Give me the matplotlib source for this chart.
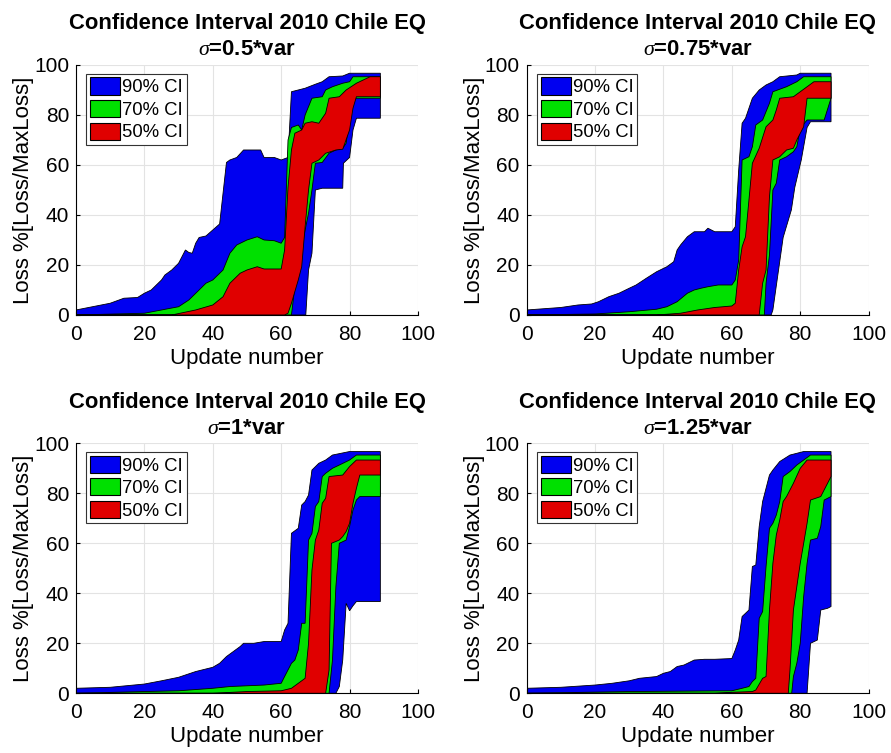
import numpy as np
import matplotlib
matplotlib.use("Agg")
import matplotlib.pyplot as plt
from matplotlib.patches import Patch

plt.rcParams["font.family"] = ["Liberation Sans", "DejaVu Sans"]
plt.rcParams["mathtext.fontset"] = "custom"
plt.rcParams["mathtext.it"] = "Liberation Serif:italic"

# sigma labels for the four panels
sigma_labels = ["0.5", "0.75", "1", "1.25"]
ci_labels = ["90% CI", "70% CI", "50% CI"]
ci_colors = ["#0000f0", "#00e000", "#e00000"]

# ---- sigma = 0.5*var ----
s1_90_up_x = [0, 10, 14, 18, 20, 22, 25, 26, 28, 30, 32, 33, 34, 35, 36, 38, 40, 42, 44, 45, 47, 49, 52, 54, 55, 58, 60, 62, 63, 65, 67, 70, 72, 74, 78, 80, 89]
s1_90_up_y = [2, 4.7, 6.7, 7, 8.7, 10, 14, 16, 18, 20.7, 26, 25, 24.7, 28.7, 31, 31.6, 34, 36.4, 61, 62, 63, 66, 66, 66, 63, 63, 62, 63, 89.3, 90, 90.7, 92.3, 93.3, 95.3, 95.6, 96.7, 96.7]
s1_90_lo_x = [0, 67.2, 68, 69, 70, 72, 78, 78.2, 80, 81, 82, 89]
s1_90_lo_y = [0, 0, 18, 24.7, 50, 50.7, 50.7, 60.7, 63, 74, 78.7, 78.7]
s1_70_up_x = [0, 20, 25, 30, 33, 36, 38, 40, 43, 45, 47, 50, 53, 55, 58, 60, 61, 62, 63, 65, 66, 67, 69, 72, 73, 75, 78, 80, 81, 89]
s1_70_up_y = [0, 0.7, 2, 3.3, 6, 10, 12.7, 14, 18, 24.7, 28, 30, 31.3, 30, 29.7, 28.7, 31, 70, 75, 76, 74, 80, 86.7, 87.3, 90, 91.3, 92.7, 93.3, 95.3, 95.3]
s1_70_lo_x = [0, 63, 64, 65, 67, 68, 69, 70, 72, 74, 76, 78, 79, 80, 81, 89]
s1_70_lo_y = [0, 0, 11.3, 18, 34, 40.7, 50, 60.7, 61, 64.7, 66, 66.7, 68.7, 79.3, 86.7, 86.7]
s1_50_up_x = [0, 28, 35, 40, 43, 45, 48, 50, 53, 55, 60, 61, 62, 63, 64, 66, 67, 69, 71, 73, 74, 77, 79, 82, 86, 89]
s1_50_up_y = [0, 0, 2, 4, 7.3, 12.7, 16.7, 18, 19.3, 18.4, 18.4, 26, 51, 66, 72.7, 74, 76.7, 77.3, 76.7, 80.7, 86.7, 87.3, 90, 92.7, 95.3, 95.3]
s1_50_lo_x = [0, 61, 62, 63, 65, 66, 67, 68, 69, 71, 73, 76, 78, 80, 81, 82, 89]
s1_50_lo_y = [0, 0, 0.7, 4.7, 14, 19.3, 35.3, 50, 60.7, 62, 64.7, 66, 66.3, 74, 82.7, 87.3, 87.3]

# ---- sigma = 0.75*var ----
s2_90_up_x = [0, 10, 15, 19, 21, 24, 27, 30, 32, 35, 38, 41, 43, 44, 45, 47, 49, 52, 53, 55, 60, 61, 62, 63, 64, 66, 68, 70, 72, 74, 79, 80, 89]
s2_90_up_y = [2, 3, 4, 4.4, 5.3, 7.3, 8.7, 10.7, 12, 14.7, 17.3, 19.3, 21.3, 26, 28, 31.3, 33.3, 33.3, 34.7, 33.3, 33.3, 35.3, 58, 76.7, 78.7, 86.7, 90, 92, 93.3, 95.3, 96, 96.7, 96.7]
s2_90_lo_x = [0, 71.5, 72, 75, 77.4, 78.4, 80.3, 82, 83, 89]
s2_90_lo_y = [0, 0, 2, 31, 42, 51, 62, 75, 77.3, 77.3]
s2_70_up_x = [0, 20, 30, 38, 41, 44, 47, 49, 51, 53, 56, 60, 61, 62, 63, 65, 66, 67, 69, 71, 72, 74, 76, 79, 81, 89]
s2_70_up_y = [0, 0.4, 1.3, 2.3, 3.3, 5.3, 8.7, 10, 10.7, 11.3, 12, 12, 14, 22, 62, 63.3, 67.3, 76, 78, 84.7, 89.3, 90.3, 91.3, 93.3, 95.3, 95.3]
s2_70_lo_x = [0, 69.5, 70, 71, 72, 73, 74, 76, 78, 79, 80, 82, 87, 89]
s2_70_lo_y = [0, 0, 12.7, 24, 50, 52.7, 62, 63.3, 65.3, 67.3, 74.7, 78, 78, 86.7]
s2_50_up_x = [0, 38, 45, 50, 55, 60, 61, 62, 63, 64, 65, 66, 68, 70, 72, 73, 74, 78, 80, 82, 84, 89]
s2_50_up_y = [0, 0, 0.7, 2, 3, 3.6, 4.7, 18, 27.3, 31.3, 46, 60.7, 66.7, 75.3, 78, 82, 86.7, 87.3, 89.3, 91.3, 93.3, 93.3]
s2_50_lo_x = [0, 68, 69, 70, 71, 72, 74, 76, 78, 79, 81, 82, 89]
s2_50_lo_y = [0, 0, 12.7, 18, 47.3, 62, 63.3, 66, 66.7, 70, 75.3, 86.7, 86.7]

# ---- sigma = 1*var ----
s3_90_up_x = [0, 10, 20, 25, 30, 35, 40, 42, 44, 46, 48, 49, 52, 55, 60, 61, 62, 63, 65, 66, 67, 68, 69, 71, 73, 75, 80, 89]
s3_90_up_y = [2, 2.4, 3.7, 5, 6.4, 8.7, 10.4, 12, 14.7, 16.7, 18.7, 20, 20, 20.7, 20.7, 25.3, 28, 64, 66, 75.3, 76.7, 79.3, 89.3, 92, 93.3, 95.3, 96.7, 96.7]
s3_90_lo_x = [0, 76, 77, 78, 79, 80, 81, 82, 89]
s3_90_lo_y = [0, 0, 2.7, 13.3, 36, 33, 35, 36.7, 36.7]
s3_70_up_x = [0, 20, 30, 40, 45, 50, 55, 60, 61, 63, 64, 65, 66, 67, 68, 69, 70, 71, 72, 73, 75, 77, 80, 82, 89]
s3_70_up_y = [0, 0.7, 1, 2, 2.7, 3, 3.3, 4, 6.7, 12, 13.3, 17.3, 28, 28, 61.3, 64, 74.7, 76.7, 86.7, 88, 90, 91.3, 93.3, 95.3, 95.3]
s3_70_lo_x = [0, 74, 74.5, 75, 76, 77, 79, 80, 81, 82, 83, 89]
s3_70_lo_y = [0, 0, 6.7, 13.3, 42.7, 60, 61.3, 66.7, 73.3, 77.3, 78.7, 78.7]
s3_50_up_x = [0, 40, 50, 60, 63, 65, 67, 68, 69, 70, 71, 72, 73, 74, 78, 80, 82, 89]
s3_50_up_y = [0, 0, 0.7, 1, 2, 4, 6, 20, 49.3, 61.3, 65.3, 76, 78, 86.7, 87.3, 90.7, 93.3, 93.3]
s3_50_lo_x = [0, 73, 74, 74.7, 77, 78, 79, 80, 81, 82, 83, 89]
s3_50_lo_y = [0, 0, 9.3, 60, 61.3, 62.7, 64.7, 68, 76, 82, 87.3, 87.3]

# ---- sigma = 1.25*var ----
s4_90_up_x = [0, 10, 20, 25, 30, 33, 38, 40, 42, 44, 46, 49, 52, 55, 60, 61, 62, 63, 65, 66, 67, 68, 69, 71, 72, 74, 77, 81, 89]
s4_90_up_y = [2, 2.4, 3.3, 4, 5, 6, 6.7, 8, 8.7, 10.7, 11.3, 13.3, 13.6, 13.6, 13.9, 17.3, 21.3, 30.7, 33.3, 50.7, 51.3, 66.7, 76.7, 87.3, 89.3, 92.7, 95.3, 96.7, 96.7]
s4_90_lo_x = [0, 82, 83, 85, 86, 88, 89]
s4_90_lo_y = [0, 0, 20, 21.3, 33.3, 34, 34.7]
s4_70_up_x = [0, 30, 60, 63, 65, 66, 67, 68, 69, 70, 71, 72, 73, 74, 75, 77, 79, 81, 83, 89]
s4_70_up_y = [0, 0.7, 1, 2, 2.7, 4.7, 6, 30, 32.7, 50.7, 66, 68, 71.3, 76.7, 86.7, 88.7, 91.3, 93.3, 95.3, 95.3]
s4_70_lo_x = [0, 77.5, 78, 79, 80, 81, 82, 83, 85, 86, 87, 89]
s4_70_lo_y = [0, 0, 6.7, 12, 20, 38.7, 52, 61.3, 62, 66.7, 77.3, 78.7]
s4_50_up_x = [0, 55, 60, 66, 67, 69, 70, 71, 72, 73, 74, 75, 76, 78, 80, 82, 89]
s4_50_up_y = [0, 0, 0.4, 0.7, 1.3, 6, 6.7, 33.3, 52, 63.3, 69.3, 76.7, 78.7, 84, 90, 93.3, 93.3]
s4_50_lo_x = [0, 76.5, 77, 78, 79, 80, 81, 82, 83, 86, 89]
s4_50_lo_y = [0, 0, 9.3, 33.3, 42.7, 52, 60, 68, 77.3, 78.7, 86.7]

panels = [
    [(s1_90_up_x, s1_90_up_y, s1_90_lo_x, s1_90_lo_y),
     (s1_70_up_x, s1_70_up_y, s1_70_lo_x, s1_70_lo_y),
     (s1_50_up_x, s1_50_up_y, s1_50_lo_x, s1_50_lo_y)],
    [(s2_90_up_x, s2_90_up_y, s2_90_lo_x, s2_90_lo_y),
     (s2_70_up_x, s2_70_up_y, s2_70_lo_x, s2_70_lo_y),
     (s2_50_up_x, s2_50_up_y, s2_50_lo_x, s2_50_lo_y)],
    [(s3_90_up_x, s3_90_up_y, s3_90_lo_x, s3_90_lo_y),
     (s3_70_up_x, s3_70_up_y, s3_70_lo_x, s3_70_lo_y),
     (s3_50_up_x, s3_50_up_y, s3_50_lo_x, s3_50_lo_y)],
    [(s4_90_up_x, s4_90_up_y, s4_90_lo_x, s4_90_lo_y),
     (s4_70_up_x, s4_70_up_y, s4_70_lo_x, s4_70_lo_y),
     (s4_50_up_x, s4_50_up_y, s4_50_lo_x, s4_50_lo_y)],
]

fig = plt.figure(figsize=(8.91, 7.53), dpi=100)

# axes positions (left, bottom) in figure fractions
positions = [(0.0853, 0.5817), (0.5911, 0.5817), (0.0853, 0.0793), (0.5911, 0.0793)]
w, h = 0.3838, 0.332

for k, (left, bottom) in enumerate(positions):
    ax = fig.add_axes([left, bottom, w, h])
    for (ux, uy, lx, ly), col in zip(panels[k], ci_colors):
        px = np.r_[ux, lx[::-1]]
        py = np.r_[uy, ly[::-1]]
        ax.fill(px, py, facecolor=col, edgecolor="black", linewidth=0.6, zorder=2)

    ax.set_xlim(0, 100)
    ax.set_ylim(0, 100)
    ax.set_xticks(np.arange(0, 101, 20))
    ax.set_yticks(np.arange(0, 101, 20))
    ax.grid(True, color="#e3e3e3", linewidth=0.8, zorder=0)
    ax.set_axisbelow(True)
    for side in ["top", "right"]:
        ax.spines[side].set_visible(False)
    for side in ["left", "bottom"]:
        ax.spines[side].set_linewidth(0.8)
        ax.spines[side].set_zorder(5)
    ax.tick_params(direction="in", length=3, labelsize=15, width=0.8)
    ax.tick_params(axis="x", pad=7)
    ax.tick_params(axis="y", pad=5)

    ax.set_xlabel("Update number", fontsize=16, labelpad=3)
    ax.set_ylabel("Loss %[Loss/MaxLoss]", fontsize=16, labelpad=0)
    ax.set_title("Confidence Interval 2010 Chile EQ\n"
                 r"$\sigma$=" + sigma_labels[k] + "*var",
                 fontsize=15.8, fontweight="bold", pad=7, linespacing=1.3)

    handles = [Patch(facecolor=c, edgecolor="black", linewidth=0.8) for c in ci_colors]
    leg = ax.legend(handles, ci_labels, loc="upper left", fontsize=13.3,
                    bbox_to_anchor=(0.03, 0.965), borderaxespad=0,
                    fancybox=False, framealpha=1, edgecolor="#333333",
                    handlelength=1.65, handleheight=1.05, handletextpad=0.1,
                    labelspacing=0.2, borderpad=0.2)
    leg.get_frame().set_linewidth(0.8)

fig.savefig("out.png", dpi=100)
